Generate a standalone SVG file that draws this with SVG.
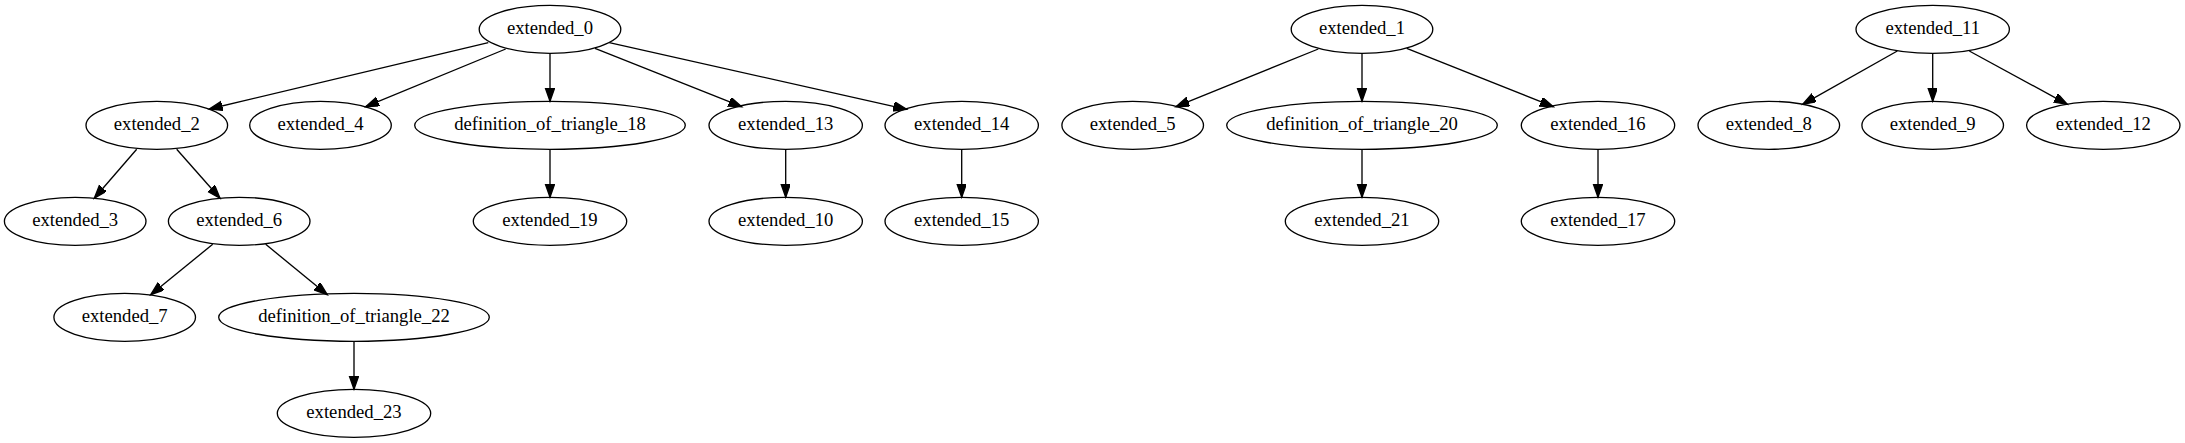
<svg xmlns="http://www.w3.org/2000/svg" width="2185" height="443" viewBox="0 0 2185 443">
<style>
.n ellipse{fill:none;stroke:#000;stroke-width:1.33}
.n text{font-family:'Liberation Serif','Times New Roman',Times,serif;font-size:18.67px;text-anchor:middle;fill:#000}
.e path{fill:none;stroke:#000;stroke-width:1.33;marker-end:url(#ah)}
</style>
<defs>
<marker id="ah" markerUnits="userSpaceOnUse" markerWidth="16" markerHeight="12" refX="13.3" refY="4.67" orient="auto">
<path d="M0,0 L13.3,4.67 L0,9.33 z" fill="#000" stroke="#000" stroke-width="1.33"/>
</marker>
</defs>
<rect width="2185" height="443" fill="#fff"/>
<g id="edges" class="e">
<path d="M488.3,42.7 L209.3,109"/>
<path d="M505.7,49 L365.7,106.7"/>
<path d="M550,53.3 L550,101.3"/>
<path d="M595,48.3 L741.7,106.7"/>
<path d="M609.3,42.7 L906.7,109.3"/>
<path d="M136.7,149.3 L94.3,198.3"/>
<path d="M176.7,149.3 L220,198.3"/>
<path d="M550,149.3 L550,197.3"/>
<path d="M785.7,149.3 L785.7,197.3"/>
<path d="M961.7,149.3 L961.7,197.3"/>
<path d="M212.7,244.3 L150.7,294.7"/>
<path d="M265.7,244.3 L327.3,294.7"/>
<path d="M354,341.3 L354,389.3"/>
<path d="M1318.3,49 L1176,106.7"/>
<path d="M1362,53.3 L1362,101.3"/>
<path d="M1406.7,48.3 L1553.3,106.7"/>
<path d="M1362,149.3 L1362,197.3"/>
<path d="M1598,149.3 L1598,197.3"/>
<path d="M1897.3,51 L1802.7,104.3"/>
<path d="M1932.7,53.3 L1932.7,101.3"/>
<path d="M1969.3,51 L2067.3,104.3"/>
</g>
<g id="nodes" font-family="Liberation Serif, serif" font-size="18.67">
<g id="extended_0" class="n"><ellipse cx="550" cy="29.3" rx="70.8" ry="24"/><text x="550" y="34.3" font-family="Liberation Serif, serif">extended_0</text></g>
<g id="extended_1" class="n"><ellipse cx="1362" cy="29.3" rx="70.8" ry="24"/><text x="1362" y="34.3" font-family="Liberation Serif, serif">extended_1</text></g>
<g id="extended_11" class="n"><ellipse cx="1932.7" cy="29.3" rx="76.7" ry="24"/><text x="1932.7" y="34.3" font-family="Liberation Serif, serif">extended_11</text></g>
<g id="extended_2" class="n"><ellipse cx="156.8" cy="125.3" rx="70.8" ry="24"/><text x="156.8" y="130.3" font-family="Liberation Serif, serif">extended_2</text></g>
<g id="extended_4" class="n"><ellipse cx="320.5" cy="125.3" rx="70.8" ry="24"/><text x="320.5" y="130.3" font-family="Liberation Serif, serif">extended_4</text></g>
<g id="definition_of_triangle_18" class="n"><ellipse cx="550" cy="125.3" rx="135.3" ry="24"/><text x="550" y="130.3" font-family="Liberation Serif, serif">definition_of_triangle_18</text></g>
<g id="extended_13" class="n"><ellipse cx="785.7" cy="125.3" rx="76.7" ry="24"/><text x="785.7" y="130.3" font-family="Liberation Serif, serif">extended_13</text></g>
<g id="extended_14" class="n"><ellipse cx="961.7" cy="125.3" rx="76.7" ry="24"/><text x="961.7" y="130.3" font-family="Liberation Serif, serif">extended_14</text></g>
<g id="extended_5" class="n"><ellipse cx="1132.7" cy="125.3" rx="70.8" ry="24"/><text x="1132.7" y="130.3" font-family="Liberation Serif, serif">extended_5</text></g>
<g id="definition_of_triangle_20" class="n"><ellipse cx="1362" cy="125.3" rx="135.3" ry="24"/><text x="1362" y="130.3" font-family="Liberation Serif, serif">definition_of_triangle_20</text></g>
<g id="extended_16" class="n"><ellipse cx="1598" cy="125.3" rx="76.7" ry="24"/><text x="1598" y="130.3" font-family="Liberation Serif, serif">extended_16</text></g>
<g id="extended_8" class="n"><ellipse cx="1768.8" cy="125.3" rx="70.8" ry="24"/><text x="1768.8" y="130.3" font-family="Liberation Serif, serif">extended_8</text></g>
<g id="extended_9" class="n"><ellipse cx="1932.7" cy="125.3" rx="70.8" ry="24"/><text x="1932.7" y="130.3" font-family="Liberation Serif, serif">extended_9</text></g>
<g id="extended_12" class="n"><ellipse cx="2103.3" cy="125.3" rx="76.7" ry="24"/><text x="2103.3" y="130.3" font-family="Liberation Serif, serif">extended_12</text></g>
<g id="extended_3" class="n"><ellipse cx="75.2" cy="221.3" rx="70.8" ry="24"/><text x="75.2" y="226.3" font-family="Liberation Serif, serif">extended_3</text></g>
<g id="extended_6" class="n"><ellipse cx="239.2" cy="221.3" rx="70.8" ry="24"/><text x="239.2" y="226.3" font-family="Liberation Serif, serif">extended_6</text></g>
<g id="extended_19" class="n"><ellipse cx="550" cy="221.3" rx="76.7" ry="24"/><text x="550" y="226.3" font-family="Liberation Serif, serif">extended_19</text></g>
<g id="extended_10" class="n"><ellipse cx="785.7" cy="221.3" rx="76.7" ry="24"/><text x="785.7" y="226.3" font-family="Liberation Serif, serif">extended_10</text></g>
<g id="extended_15" class="n"><ellipse cx="961.7" cy="221.3" rx="76.7" ry="24"/><text x="961.7" y="226.3" font-family="Liberation Serif, serif">extended_15</text></g>
<g id="extended_21" class="n"><ellipse cx="1362" cy="221.3" rx="76.7" ry="24"/><text x="1362" y="226.3" font-family="Liberation Serif, serif">extended_21</text></g>
<g id="extended_17" class="n"><ellipse cx="1598" cy="221.3" rx="76.7" ry="24"/><text x="1598" y="226.3" font-family="Liberation Serif, serif">extended_17</text></g>
<g id="extended_7" class="n"><ellipse cx="124.7" cy="317.3" rx="70.8" ry="24"/><text x="124.7" y="322.3" font-family="Liberation Serif, serif">extended_7</text></g>
<g id="definition_of_triangle_22" class="n"><ellipse cx="354" cy="317.3" rx="135.3" ry="24"/><text x="354" y="322.3" font-family="Liberation Serif, serif">definition_of_triangle_22</text></g>
<g id="extended_23" class="n"><ellipse cx="354" cy="413.3" rx="76.7" ry="24"/><text x="354" y="418.3" font-family="Liberation Serif, serif">extended_23</text></g>
</g>
</svg>
